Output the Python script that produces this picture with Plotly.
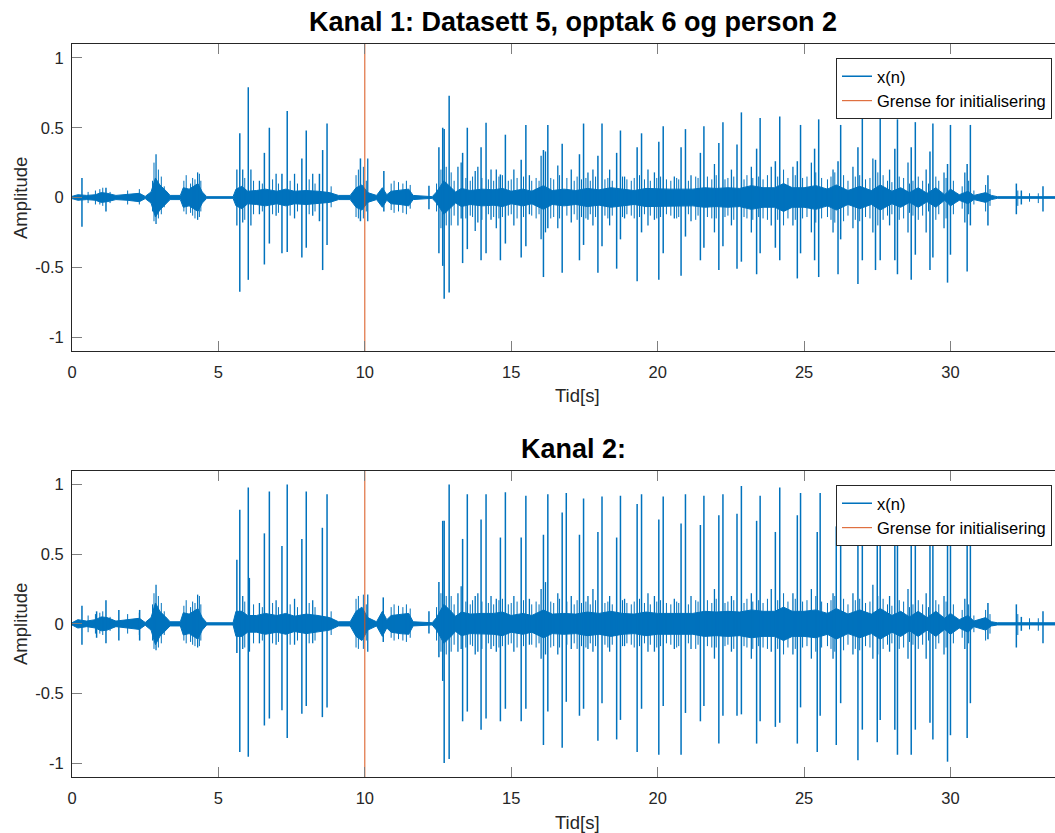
import plotly.graph_objects as go

# ---------------- data ----------------
boundary_t = 10.0  # "Grense for initialisering"

# core envelope of the dense signal (breakpoints, seconds / amplitude)
env_t = [0.0, 0.2, 0.5, 0.8, 1.0, 1.2, 1.5, 1.9, 2.3, 2.5,
         2.7, 2.85, 3.0, 3.2, 3.35, 3.7, 3.8, 4.0, 4.15, 4.3,
         4.45, 4.6, 5.5, 5.6, 5.8, 6.0, 6.3, 6.6, 7.0, 7.3,
         7.6, 8.0, 8.4, 8.8, 9.1, 9.5, 9.7, 9.9, 10.1, 10.4,
         10.6, 10.75, 10.9, 11.2, 11.5, 11.65, 12.3, 12.45, 12.7, 12.9,
         13.1, 13.3, 13.6, 14.0, 14.4, 14.7, 15.0, 15.4, 15.7, 16.1,
         16.4, 16.8, 17.2, 17.6, 18.0, 18.4, 18.8, 19.2, 19.6, 20.0,
         20.4, 20.8, 21.2, 21.6, 22.0, 22.4, 22.8, 23.2, 23.6, 24.0,
         24.3, 24.6, 25.0, 25.4, 25.8, 26.1, 26.5, 26.9, 27.3, 27.6,
         28.0, 28.3, 28.6, 28.9, 29.2, 29.5, 29.8, 30.0, 30.3, 30.6,
         30.8, 31.2, 31.4, 31.6, 33.62]
ch1_env = [0.008, 0.02, 0.015, 0.02, 0.035, 0.03, 0.015, 0.02, 0.03, 0.008,
           0.04, 0.14, 0.09, 0.05, 0.015, 0.015, 0.07, 0.06, 0.08, 0.10,
           0.04, 0.006, 0.006, 0.06, 0.08, 0.045, 0.05, 0.06, 0.045, 0.06,
           0.045, 0.05, 0.045, 0.035, 0.015, 0.015, 0.07, 0.09, 0.035, 0.015,
           0.07, 0.02, 0.045, 0.05, 0.06, 0.015, 0.006, 0.04, 0.12, 0.08,
           0.04, 0.065, 0.05, 0.06, 0.055, 0.065, 0.045, 0.06, 0.045, 0.085,
           0.05, 0.06, 0.05, 0.065, 0.055, 0.07, 0.06, 0.05, 0.065, 0.06,
           0.06, 0.06, 0.06, 0.07, 0.065, 0.07, 0.065, 0.085, 0.07, 0.07,
           0.10, 0.07, 0.07, 0.085, 0.06, 0.09, 0.05, 0.08, 0.05, 0.09,
           0.045, 0.07, 0.035, 0.07, 0.03, 0.07, 0.02, 0.06, 0.02, 0.045,
           0.015, 0.035, 0.015, 0.006, 0.006]
ch2_env = [0.008, 0.03, 0.02, 0.03, 0.05, 0.045, 0.02, 0.03, 0.04, 0.01,
           0.045, 0.15, 0.09, 0.05, 0.015, 0.015, 0.08, 0.07, 0.09, 0.11,
           0.045, 0.008, 0.008, 0.09, 0.09, 0.06, 0.06, 0.075, 0.06, 0.075,
           0.055, 0.07, 0.06, 0.045, 0.015, 0.015, 0.09, 0.12, 0.045, 0.015,
           0.09, 0.03, 0.06, 0.07, 0.075, 0.015, 0.008, 0.045, 0.14, 0.10,
           0.055, 0.085, 0.07, 0.075, 0.075, 0.085, 0.06, 0.075, 0.06, 0.10,
           0.07, 0.075, 0.07, 0.085, 0.075, 0.09, 0.075, 0.07, 0.085, 0.075,
           0.075, 0.075, 0.075, 0.09, 0.085, 0.09, 0.085, 0.10, 0.09, 0.09,
           0.12, 0.09, 0.09, 0.10, 0.075, 0.11, 0.07, 0.10, 0.07, 0.11,
           0.06, 0.09, 0.05, 0.09, 0.045, 0.09, 0.04, 0.075, 0.03, 0.06,
           0.02, 0.045, 0.015, 0.008, 0.008]

# channel 1: main peaks (time, max, min)
ch1_pk_t = [0.34, 1.16, 5.73, 6.02, 6.57, 6.74, 7.17, 7.35, 7.85, 8.0,
            8.45, 8.56, 8.71, 9.85, 10.65, 12.19, 12.53, 12.66, 12.71, 12.88,
            13.34, 13.5, 13.97, 14.14, 14.63, 14.8, 15.34, 15.5, 16.1, 16.25,
            16.74, 17.33, 17.47, 17.96, 18.1, 18.6, 18.73, 19.3, 19.45, 20.04,
            20.19, 20.8, 20.95, 21.46, 21.58, 22.09, 22.23, 22.71, 22.86, 23.38,
            23.5, 24.02, 24.17, 24.77, 24.88, 25.36, 25.5, 26.16, 26.25, 26.84,
            26.99, 27.44, 27.6, 28.1, 28.19, 28.66, 28.8, 29.3, 29.4, 29.9,
            30.0, 30.57, 30.68, 31.28, 32.25, 32.42, 33.16]
ch1_pk_hi = [0.14, 0.07, 0.46, 0.79, 0.32, 0.50, 0.17, 0.62, 0.28, 0.48,
             0.17, 0.34, 0.53, 0.28, 0.19, 0.085, 0.36, 0.50, 0.49, 0.73,
             0.32, 0.50, 0.36, 0.535, 0.165, 0.45, 0.27, 0.52, 0.34, 0.52,
             0.385, 0.31, 0.53, 0.30, 0.53, 0.32, 0.48, 0.36, 0.46, 0.40,
             0.51, 0.36, 0.49, 0.32, 0.51, 0.39, 0.54, 0.38, 0.61, 0.35,
             0.57, 0.26, 0.58, 0.26, 0.52, 0.35, 0.56, 0.26, 0.52, 0.36,
             0.60, 0.27, 0.63, 0.35, 0.56, 0.36, 0.54, 0.33, 0.53, 0.24,
             0.52, 0.24, 0.52, 0.16, 0.10, 0.05, 0.08]
ch1_pk_lo = [-0.21, -0.10, -0.676, -0.59, -0.48, -0.33, -0.40, -0.39, -0.43, -0.36,
             -0.17, -0.52, -0.34, -0.17, -0.10, -0.085, -0.40, -0.49, -0.725, -0.68,
             -0.47, -0.37, -0.45, -0.40, -0.45, -0.33, -0.43, -0.35, -0.57, -0.22,
             -0.54, -0.45, -0.34, -0.54, -0.35, -0.51, -0.30, -0.60, -0.25, -0.59,
             -0.40, -0.56, -0.28, -0.45, -0.36, -0.52, -0.35, -0.51, -0.46, -0.55,
             -0.40, -0.36, -0.45, -0.58, -0.40, -0.45, -0.57, -0.55, -0.30, -0.62,
             -0.45, -0.52, -0.45, -0.45, -0.55, -0.59, -0.41, -0.52, -0.43, -0.61,
             -0.41, -0.53, -0.20, -0.20, -0.12, -0.05, -0.10]

# channel 1: secondary peaks
ch1_sec_t = [2.87, 4.29, 5.63, 5.83, 6.11, 6.4, 6.97, 7.6, 8.22, 10.1,
             13.18, 13.29, 13.77, 13.86, 14.31, 14.49, 15.09, 15.62, 16.02, 16.17,
             16.59, 17.05, 17.62, 17.79, 18.36, 18.87, 19.67, 19.89, 20.57, 21.14,
             21.94, 22.52, 23.2, 23.88, 24.62, 25.25, 25.99, 26.67, 27.35, 27.92,
             28.55, 29.17, 29.78, 30.49]
ch1_sec_hi = [0.31, 0.18, 0.2, 0.2, 0.2, 0.12, 0.17, 0.17, 0.17, 0.28,
              0.22, 0.25, 0.19, 0.22, 0.2, 0.2, 0.2, 0.16, 0.3, 0.33,
              0.23, 0.2, 0.18, 0.2, 0.2, 0.15, 0.2, 0.18, 0.15, 0.16,
              0.24, 0.2, 0.22, 0.22, 0.22, 0.25, 0.2, 0.22, 0.28, 0.2,
              0.25, 0.2, 0.18, 0.18]
ch1_sec_lo = [-0.19, -0.16, -0.2, -0.18, -0.2, -0.12, -0.13, -0.15, -0.13, -0.17,
              -0.2, -0.15, -0.24, -0.18, -0.16, -0.22, -0.2, -0.12, -0.3, -0.25,
              -0.22, -0.18, -0.16, -0.2, -0.2, -0.15, -0.2, -0.16, -0.15, -0.17,
              -0.25, -0.2, -0.25, -0.2, -0.2, -0.25, -0.25, -0.22, -0.25, -0.2,
              -0.25, -0.25, -0.22, -0.18]

# channel 2: main peaks
ch2_pk_t = [0.34, 0.84, 1.16, 1.6, 2.31, 5.63, 5.73, 6.02, 6.57, 6.74,
            7.17, 7.35, 7.85, 8.0, 8.55, 8.71, 10.63, 12.19, 12.53, 12.66,
            12.71, 12.88, 13.34, 13.5, 13.97, 14.14, 14.63, 14.8, 15.34, 15.5,
            16.1, 16.25, 16.74, 16.88, 17.33, 17.47, 17.96, 18.1, 18.6, 18.73,
            19.3, 19.45, 20.04, 20.19, 20.8, 20.95, 21.46, 21.58, 22.09, 22.23,
            22.71, 22.86, 23.38, 23.5, 24.02, 24.17, 24.77, 24.88, 25.45, 25.55,
            26.1, 26.25, 26.84, 26.99, 27.5, 27.6, 28.1, 28.19, 28.66, 28.8,
            29.3, 29.4, 29.9, 30.0, 30.57, 30.68, 31.28, 32.25, 32.42, 33.16]
ch2_pk_hi = [0.13, 0.09, 0.17, 0.10, 0.10, 0.46, 0.82, 0.98, 0.65, 0.95,
             0.56, 1.0, 0.61, 0.95, 0.69, 0.93, 0.19, 0.09, 0.30, 0.74,
             0.74, 1.0, 0.61, 0.93, 0.75, 0.93, 0.62, 0.945, 0.62, 0.92,
             0.64, 0.93, 0.80, 0.94, 0.64, 0.90, 0.66, 0.915, 0.62, 0.92,
             0.86, 0.93, 0.75, 0.915, 0.72, 0.93, 0.71, 0.92, 0.78, 0.93,
             0.79, 0.99, 0.74, 0.92, 0.66, 0.98, 0.78, 0.94, 0.66, 0.94,
             0.70, 0.95, 0.80, 0.95, 0.75, 0.99, 0.72, 0.93, 0.75, 0.92,
             0.70, 0.92, 0.75, 0.92, 0.80, 0.64, 0.15, 0.14, 0.05, 0.09]
ch2_pk_lo = [-0.15, -0.10, -0.14, -0.12, -0.12, -0.21, -0.92, -0.955, -0.73, -0.68,
             -0.62, -0.82, -0.645, -0.59, -0.67, -0.60, -0.13, -0.07, -0.24, -0.41,
             -1.0, -0.97, -0.70, -0.63, -0.76, -0.68, -0.70, -0.61, -0.70, -0.61,
             -0.87, -0.63, -0.89, -0.56, -0.66, -0.61, -0.84, -0.57, -0.83, -0.69,
             -0.92, -0.61, -0.94, -0.59, -0.94, -0.64, -0.70, -0.59, -0.86, -0.66,
             -0.66, -0.65, -0.86, -0.70, -0.74, -0.71, -0.86, -0.60, -0.92, -0.66,
             -0.87, -0.57, -0.98, -0.76, -0.85, -0.69, -0.76, -0.94, -0.94, -0.76,
             -0.71, -0.83, -0.99, -0.80, -0.82, -0.57, -0.11, -0.17, -0.05, -0.14]

# channel 2: secondary peaks
ch2_sec_t = [2.87, 4.29, 5.83, 6.06, 6.4, 6.97, 7.6, 8.22, 10.1, 13.18,
             13.29, 13.77, 13.86, 14.31, 14.49, 15.09, 15.62, 16.02, 16.17, 16.59,
             17.05, 17.62, 17.79, 18.36, 18.87, 19.67, 19.89, 20.57, 21.14, 21.94,
             22.52, 23.2, 23.88, 24.62, 25.25, 25.99, 26.67, 27.35, 27.92, 28.55,
             29.17, 29.78, 30.49]
ch2_sec_hi = [0.28, 0.21, 0.2, 0.33, 0.15, 0.17, 0.18, 0.17, 0.21, 0.22,
              0.27, 0.2, 0.22, 0.2, 0.18, 0.2, 0.18, 0.25, 0.3, 0.22,
              0.2, 0.2, 0.25, 0.2, 0.18, 0.22, 0.2, 0.18, 0.2, 0.25,
              0.2, 0.22, 0.25, 0.22, 0.25, 0.22, 0.22, 0.28, 0.2, 0.25,
              0.22, 0.2, 0.18]
ch2_sec_lo = [-0.19, -0.17, -0.18, -0.2, -0.14, -0.15, -0.15, -0.14, -0.2, -0.2,
              -0.18, -0.22, -0.2, -0.18, -0.2, -0.2, -0.15, -0.25, -0.22, -0.22,
              -0.18, -0.18, -0.2, -0.2, -0.16, -0.2, -0.2, -0.18, -0.18, -0.25,
              -0.2, -0.25, -0.2, -0.22, -0.25, -0.25, -0.22, -0.25, -0.2, -0.25,
              -0.25, -0.22, -0.18]

# small oscillation strokes (both channels share the times)
small_t = [0.55, 0.8, 0.95, 1.05, 1.3, 1.9, 2.3, 2.75, 2.8, 2.95,
           3.05, 3.15, 3.82, 3.9, 4.05, 4.12, 4.2, 4.35, 4.4, 5.9,
           6.2, 6.5, 6.85, 7.05, 7.45, 7.7, 8.1, 8.3, 8.85, 9.7,
           9.78, 9.95, 10.05, 10.9, 11.0, 11.15, 11.3, 11.42, 11.55, 12.45,
           12.6, 12.78, 12.95, 13.05, 13.45, 13.6, 13.68, 14.0, 14.22, 14.4,
           14.58, 14.7, 14.9, 15.0, 15.2, 15.42, 15.7, 15.85, 15.95, 16.35,
           16.45, 16.65, 16.9, 17.15, 17.25, 17.4, 17.55, 17.7, 17.88, 18.2,
           18.3, 18.45, 18.8, 18.95, 19.1, 19.2, 19.38, 19.55, 19.75, 19.97,
           20.1, 20.3, 20.45, 20.65, 20.72, 21.05, 21.3, 21.38, 21.7, 21.85,
           22.0, 22.3, 22.4, 22.6, 22.95, 23.05, 23.25, 23.45, 23.6, 23.75,
           24.1, 24.3, 24.45, 24.7, 24.95, 25.1, 25.4, 25.6, 25.8, 25.92,
           26.05, 26.35, 26.5, 26.75, 26.9, 27.1, 27.25, 27.52, 27.7, 27.85,
           28.0, 28.25, 28.4, 28.6, 28.72, 28.9, 29.05, 29.25, 29.5, 29.6,
           29.85, 30.1, 30.4, 30.62, 30.8, 31.2, 31.35, 32.3, 32.7, 33.0]
ch1_small_hi = [0.04, 0.05, 0.06, 0.07, 0.04, 0.05, 0.06, 0.12, 0.25, 0.2,
                0.15, 0.08, 0.12, 0.16, 0.1, 0.14, 0.13, 0.17, 0.12, 0.14,
                0.12, 0.1, 0.13, 0.1, 0.12, 0.1, 0.13, 0.1, 0.08, 0.16,
                0.2, 0.22, 0.12, 0.1, 0.12, 0.11, 0.1, 0.12, 0.09, 0.1,
                0.2, 0.22, 0.18, 0.12, 0.14, 0.12, 0.15, 0.14, 0.13, 0.12,
                0.15, 0.16, 0.12, 0.13, 0.14, 0.15, 0.12, 0.14, 0.12, 0.14,
                0.13, 0.16, 0.14, 0.12, 0.15, 0.13, 0.14, 0.12, 0.15, 0.13,
                0.14, 0.12, 0.15, 0.13, 0.12, 0.14, 0.16, 0.13, 0.12, 0.14,
                0.15, 0.13, 0.12, 0.14, 0.13, 0.12, 0.15, 0.14, 0.15, 0.13,
                0.16, 0.13, 0.14, 0.15, 0.13, 0.16, 0.14, 0.15, 0.13, 0.16,
                0.15, 0.2, 0.14, 0.16, 0.14, 0.15, 0.18, 0.14, 0.13, 0.15,
                0.18, 0.16, 0.12, 0.15, 0.16, 0.13, 0.14, 0.18, 0.16, 0.12,
                0.11, 0.15, 0.14, 0.1, 0.12, 0.15, 0.12, 0.1, 0.15, 0.12,
                0.14, 0.12, 0.08, 0.12, 0.05, 0.09, 0.06, 0.05, 0.03, 0.03]
ch1_small_lo = [-0.04, -0.05, -0.05, -0.06, -0.04, -0.05, -0.05, -0.1, -0.17, -0.15,
                -0.12, -0.07, -0.1, -0.12, -0.11, -0.13, -0.15, -0.14, -0.1, -0.16,
                -0.12, -0.1, -0.12, -0.11, -0.13, -0.1, -0.12, -0.1, -0.07, -0.14,
                -0.15, -0.15, -0.1, -0.09, -0.11, -0.1, -0.11, -0.12, -0.08, -0.1,
                -0.22, -0.2, -0.2, -0.13, -0.15, -0.13, -0.14, -0.16, -0.12, -0.14,
                -0.15, -0.14, -0.13, -0.12, -0.15, -0.14, -0.13, -0.15, -0.12, -0.15,
                -0.14, -0.15, -0.13, -0.12, -0.16, -0.14, -0.15, -0.12, -0.14, -0.13,
                -0.15, -0.13, -0.14, -0.12, -0.13, -0.15, -0.14, -0.12, -0.13, -0.15,
                -0.14, -0.12, -0.13, -0.15, -0.14, -0.12, -0.16, -0.13, -0.14, -0.15,
                -0.15, -0.14, -0.13, -0.16, -0.14, -0.15, -0.16, -0.14, -0.15, -0.16,
                -0.16, -0.2, -0.15, -0.16, -0.15, -0.14, -0.18, -0.15, -0.14, -0.16,
                -0.18, -0.17, -0.13, -0.16, -0.17, -0.14, -0.15, -0.2, -0.16, -0.13,
                -0.12, -0.16, -0.15, -0.11, -0.13, -0.16, -0.13, -0.1, -0.16, -0.12,
                -0.15, -0.12, -0.08, -0.12, -0.05, -0.1, -0.06, -0.06, -0.03, -0.04]
ch2_small_hi = [0.06, 0.07, 0.08, 0.09, 0.05, 0.07, 0.08, 0.14, 0.22, 0.2,
                0.15, 0.09, 0.13, 0.17, 0.12, 0.16, 0.15, 0.2, 0.14, 0.16,
                0.14, 0.12, 0.15, 0.12, 0.14, 0.12, 0.15, 0.12, 0.09, 0.18,
                0.2, 0.21, 0.14, 0.12, 0.14, 0.13, 0.12, 0.14, 0.11, 0.12,
                0.22, 0.2, 0.2, 0.14, 0.16, 0.14, 0.17, 0.16, 0.15, 0.14,
                0.17, 0.18, 0.14, 0.15, 0.16, 0.17, 0.14, 0.16, 0.14, 0.16,
                0.15, 0.18, 0.16, 0.14, 0.17, 0.15, 0.16, 0.14, 0.17, 0.15,
                0.16, 0.14, 0.17, 0.15, 0.14, 0.16, 0.18, 0.15, 0.14, 0.16,
                0.17, 0.15, 0.14, 0.16, 0.15, 0.14, 0.17, 0.16, 0.17, 0.15,
                0.18, 0.15, 0.16, 0.17, 0.15, 0.18, 0.16, 0.17, 0.15, 0.18,
                0.17, 0.22, 0.16, 0.18, 0.16, 0.17, 0.2, 0.16, 0.15, 0.17,
                0.2, 0.18, 0.14, 0.17, 0.18, 0.15, 0.16, 0.2, 0.18, 0.14,
                0.13, 0.17, 0.16, 0.12, 0.14, 0.17, 0.14, 0.12, 0.17, 0.14,
                0.16, 0.14, 0.1, 0.14, 0.06, 0.1, 0.07, 0.07, 0.04, 0.04]
ch2_small_lo = [-0.06, -0.07, -0.07, -0.08, -0.05, -0.07, -0.08, -0.12, -0.18, -0.17,
                -0.14, -0.08, -0.12, -0.14, -0.13, -0.15, -0.16, -0.16, -0.12, -0.17,
                -0.14, -0.12, -0.14, -0.13, -0.15, -0.12, -0.14, -0.12, -0.08, -0.17,
                -0.18, -0.18, -0.12, -0.1, -0.12, -0.11, -0.12, -0.13, -0.1, -0.12,
                -0.2, -0.22, -0.2, -0.15, -0.17, -0.15, -0.16, -0.18, -0.14, -0.16,
                -0.17, -0.16, -0.15, -0.14, -0.17, -0.16, -0.15, -0.17, -0.14, -0.17,
                -0.16, -0.17, -0.15, -0.14, -0.18, -0.16, -0.17, -0.14, -0.16, -0.15,
                -0.17, -0.15, -0.16, -0.14, -0.15, -0.17, -0.16, -0.14, -0.15, -0.17,
                -0.16, -0.14, -0.15, -0.17, -0.16, -0.14, -0.18, -0.15, -0.16, -0.17,
                -0.17, -0.16, -0.15, -0.18, -0.16, -0.17, -0.18, -0.16, -0.17, -0.18,
                -0.18, -0.22, -0.17, -0.18, -0.17, -0.16, -0.2, -0.17, -0.16, -0.18,
                -0.2, -0.19, -0.15, -0.18, -0.19, -0.16, -0.17, -0.22, -0.18, -0.15,
                -0.14, -0.18, -0.17, -0.13, -0.15, -0.18, -0.15, -0.12, -0.18, -0.14,
                -0.17, -0.14, -0.1, -0.14, -0.06, -0.12, -0.07, -0.08, -0.04, -0.05]

titles = ["Kanal 1: Datasett 5, opptak 6 og person 2", "Kanal 2:"]
x_ticks = [0, 5, 10, 15, 20, 25, 30]
y_ticks = [-1, -0.5, 0, 0.5, 1]
y_tick_text = ["-1", "-0.5", "0", "0.5", "1"]

# ---------------- styling ----------------
BLUE = "#0072BD"
ORANGE = "#D95319"
TXT = "#262626"
FONT = "Liberation Sans, Arial, Helvetica, sans-serif"
W, H = 1055, 833
ML, MR, MT, MB = 72, 0, 44, 56
PW, PH = W - ML - MR, H - MT - MB
domains = [[(777 - 351) / PH, 1.0], [0.0, (777 - 470.7) / PH]]
XR = [0, 33.57]
YR = [-1.1, 1.1]


def segs(ts, his, los):
    xs, ys = [], []
    for t, a, b in zip(ts, his, los):
        xs += [t, t, None]
        ys += [a, b, None]
    return xs, ys


fig = go.Figure()
channels = [
    (ch1_env, ch1_small_hi, ch1_small_lo, ch1_sec_t, ch1_sec_hi, ch1_sec_lo,
     ch1_pk_t, ch1_pk_hi, ch1_pk_lo),
    (ch2_env, ch2_small_hi, ch2_small_lo, ch2_sec_t, ch2_sec_hi, ch2_sec_lo,
     ch2_pk_t, ch2_pk_hi, ch2_pk_lo),
]
for i, (env, smh, sml, st, sh, sl, pt, ph, pl) in enumerate(channels):
    xa = "x" if i == 0 else "x2"
    ya = "y" if i == 0 else "y2"
    lg = "legend" if i == 0 else "legend2"
    fig.add_trace(go.Scatter(
        x=env_t + env_t[::-1], y=env + [-v for v in env[::-1]],
        fill="toself", fillcolor=BLUE, mode="lines",
        line=dict(color=BLUE, width=1), showlegend=False, hoverinfo="skip",
        xaxis=xa, yaxis=ya))
    mx, my = segs(small_t, smh, sml)
    fig.add_trace(go.Scatter(x=mx, y=my, mode="lines",
                             line=dict(color=BLUE, width=1), showlegend=False,
                             xaxis=xa, yaxis=ya))
    sx, sy = segs(st, sh, sl)
    fig.add_trace(go.Scatter(x=sx, y=sy, mode="lines",
                             line=dict(color=BLUE, width=1.3), showlegend=False,
                             xaxis=xa, yaxis=ya))
    px_, py_ = segs(pt, ph, pl)
    fig.add_trace(go.Scatter(x=px_, y=py_, mode="lines", name="x(n)",
                             line=dict(color=BLUE, width=1.5), legend=lg,
                             legendgroup="a%d" % i, xaxis=xa, yaxis=ya))
    fig.add_trace(go.Scatter(x=[boundary_t, boundary_t], y=YR, mode="lines",
                             name="Grense for initialisering",
                             line=dict(color=ORANGE, width=1), legend=lg,
                             legendgroup="b%d" % i, xaxis=xa, yaxis=ya))

axis_common = dict(showgrid=False, zeroline=False, showline=True, linecolor=TXT,
                   linewidth=1, ticks="inside", ticklen=10, tickwidth=1,
                   tickcolor="#7f7f7f", tickfont=dict(family=FONT, size=16.5, color=TXT))
lay = dict(
    width=W, height=H, margin=dict(l=ML, r=MR, t=MT, b=MB, autoexpand=False),
    paper_bgcolor="white", plot_bgcolor="white", font=dict(family=FONT, color=TXT),
)
for i in range(2):
    sfx = "" if i == 0 else "2"
    lay["xaxis" + sfx] = dict(axis_common, range=XR, domain=[0, 1], tickvals=x_ticks,
                              mirror="ticks", anchor="y" + sfx, ticklabelstandoff=6)
    lay["yaxis" + sfx] = dict(axis_common, range=YR, domain=domains[i], tickvals=y_ticks,
                              ticktext=y_tick_text, mirror=False, anchor="x" + sfx,
                              ticklabelstandoff=4)
    lay["legend" + ("" if i == 0 else "2")] = dict(
        x=(1052 - ML) / PW, y=(777 - (58 if i == 0 else 485)) / PH,
        xanchor="right", yanchor="top", bgcolor="white", bordercolor=TXT, borderwidth=1,
        font=dict(family=FONT, size=16.5, color="#000000"), traceorder="grouped",
        tracegroupgap=0, itemwidth=30)
fig.update_layout(**lay)

ann = []
for i, (ty, xy, yy) in enumerate([(22, 395, 198), (449, 822, 624)]):
    ann.append(dict(text="<b>%s</b>" % titles[i], x=(573 - ML) / PW, y=(777 - ty) / PH,
                    xref="paper", yref="paper", showarrow=False,
                    font=dict(family=FONT, size=27, color="#000000"),
                    xanchor="center", yanchor="middle"))
    ann.append(dict(text="Tid[s]", x=(577 - ML) / PW, y=(777 - xy) / PH,
                    xref="paper", yref="paper", showarrow=False,
                    font=dict(family=FONT, size=18.5, color=TXT),
                    xanchor="center", yanchor="middle"))
    ann.append(dict(text="Amplitude", x=(20 - ML) / PW, y=(777 - yy) / PH,
                    xref="paper", yref="paper", showarrow=False, textangle=-90,
                    font=dict(family=FONT, size=18.5, color=TXT),
                    xanchor="center", yanchor="middle"))
fig.update_layout(annotations=ann)

fig.write_html("out.html",
               config={"displayModeBar": False},
               post_script="document.body.style.margin='0';"
                           "document.body.style.overflow='hidden';")
